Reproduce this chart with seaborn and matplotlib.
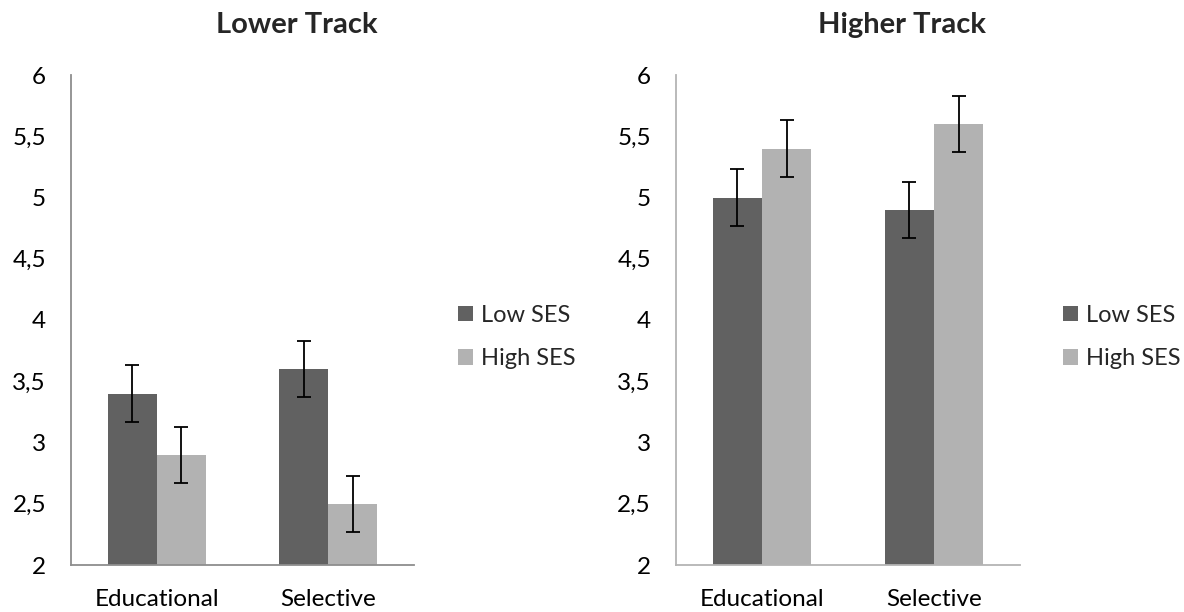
import matplotlib
matplotlib.use("Agg")
import matplotlib.pyplot as plt
import seaborn as sns
import pandas as pd
import numpy as np

sns.set_style("white")
plt.rcParams['font.family'] = ['Lato', 'DejaVu Sans']

# ---- data ----
categories = ["Educational", "Selective"]
ses_levels = ["Low SES", "High SES"]
lower_low = [3.4, 3.6]
lower_high = [2.9, 2.5]
lower_low_err = [0.23, 0.23]
lower_high_err = [0.23, 0.23]
higher_low = [5.0, 4.9]
higher_high = [5.4, 5.6]
higher_low_err = [0.23, 0.23]
higher_high_err = [0.23, 0.23]
titles = ["Lower Track", "Higher Track"]
yticks = [2, 2.5, 3, 3.5, 4, 4.5, 5, 5.5, 6]
ytick_labels = ["2", "2,5", "3", "3,5", "4", "4,5", "5", "5,5", "6"]

colors = ["#616161", "#b2b2b2"]

W, H = 1184, 612
fig = plt.figure(figsize=(W / 100, H / 100), dpi=100)

panels = [
    dict(title=titles[0], low=lower_low, high=lower_high, lerr=lower_low_err, herr=lower_high_err,
         ax_px=(71, 414), title_x=297, leg_x=458, spine="#8e8e8e"),
    dict(title=titles[1], low=higher_low, high=higher_high, lerr=higher_low_err, herr=higher_high_err,
         ax_px=(676, 1020), title_x=902, leg_x=1063, spine="#b4b4b4"),
]

top_px, bot_px = 75, 565
for p in panels:
    l, r = p["ax_px"]
    ax = fig.add_axes([l / W, 1 - bot_px / H, (r - l) / W, (bot_px - top_px) / H])
    df = pd.DataFrame({
        "Type": categories * 2,
        "SES": [ses_levels[0]] * 2 + [ses_levels[1]] * 2,
        "Mean": p["low"] + p["high"],
    })
    sns.barplot(data=df, x="Type", y="Mean", hue="SES", hue_order=ses_levels,
                order=categories, palette=colors, width=0.573, gap=0,
                errorbar=None, saturation=1, linewidth=0, ax=ax)
    errs = [p["lerr"], p["herr"]]
    for cont, e in zip(ax.containers, errs):
        xs = [b.get_x() + b.get_width() / 2 for b in cont]
        ys = [b.get_height() for b in cont]
        ax.errorbar(xs, ys, yerr=e, fmt="none", ecolor="black", elinewidth=1.3,
                    capsize=4.7, capthick=1.3)
    ax.set_ylim(2, 6)
    ax.set_xlim(-0.5, 1.5)
    ax.set_yticks(yticks)
    ax.set_yticklabels(ytick_labels)
    ax.set_xlabel("")
    ax.set_ylabel("")
    ax.tick_params(axis="both", length=0, labelsize=17.5, colors="black")
    ax.tick_params(axis="y", pad=18)
    ax.tick_params(axis="x", pad=17)
    for s in ["top", "right"]:
        ax.spines[s].set_visible(False)
    for s in ["left", "bottom"]:
        ax.spines[s].set_color(p["spine"])
        ax.spines[s].set_linewidth(1.3)
    handles, labels = ax.get_legend_handles_labels()
    if ax.get_legend() is not None:
        ax.get_legend().remove()
    ax.legend(handles, labels, loc="center left",
              bbox_to_anchor=(p["leg_x"] / W, 1 - 337 / H), bbox_transform=fig.transFigure,
              frameon=False, fontsize=17, handlelength=0.62, handleheight=0.62,
              handletextpad=0.35, labelspacing=0.95, borderpad=0, borderaxespad=0)
    fig.text(p["title_x"] / W, 1 - 25 / H, p["title"], ha="center", va="center",
             fontsize=21, fontweight="bold")

fig.savefig("out.png", dpi=100)
